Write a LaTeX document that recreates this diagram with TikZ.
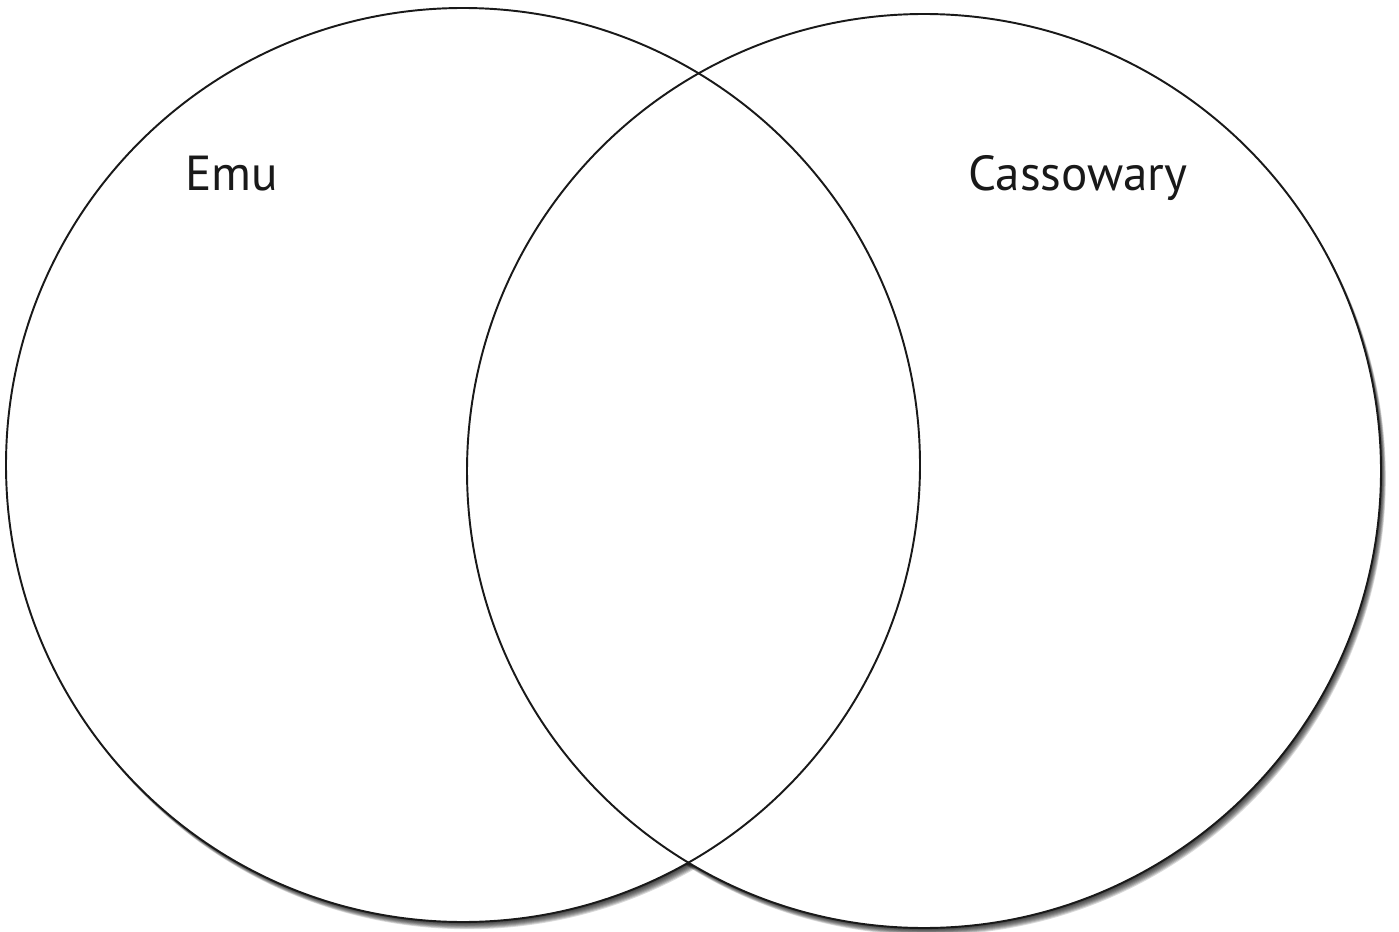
\documentclass[tikz,border=0pt]{standalone}
\usepackage{fontspec}
\setmainfont{PT Sans}

\begin{document}
\begin{tikzpicture}[x=0.02cm, y=-0.02cm,
    ring/.style={draw=black!90, line width=1.1pt},
    setlabel/.style={anchor=base west, inner sep=0pt, text=black!90,
                     font=\fontsize{28}{34}\selectfont}]
  \useasboundingbox (0,0) rectangle (1399,932);
  \fill[white] (0,0) rectangle (1399,932);
  \coordinate (emuC) at (463,465);
  \coordinate (casC) at (924,471);
  \foreach \k in {1,...,8} {
    \fill[black, opacity=0.15] ([shift={(0.6*\k,0.9*\k)}]emuC) circle (457);
    \fill[black, opacity=0.15] ([shift={(0.6*\k,0.9*\k)}]casC) circle (457);
  }
  \fill[white] (emuC) circle (457);
  \fill[white] (casC) circle (457);
  \draw[ring] (emuC) circle (457);
  \draw[ring] (casC) circle (457);
  \node[setlabel] (emu) at (185,191) {Emu};
  \node[setlabel] (cassowary) at (968,191) {Cassowary};
\end{tikzpicture}
\end{document}
